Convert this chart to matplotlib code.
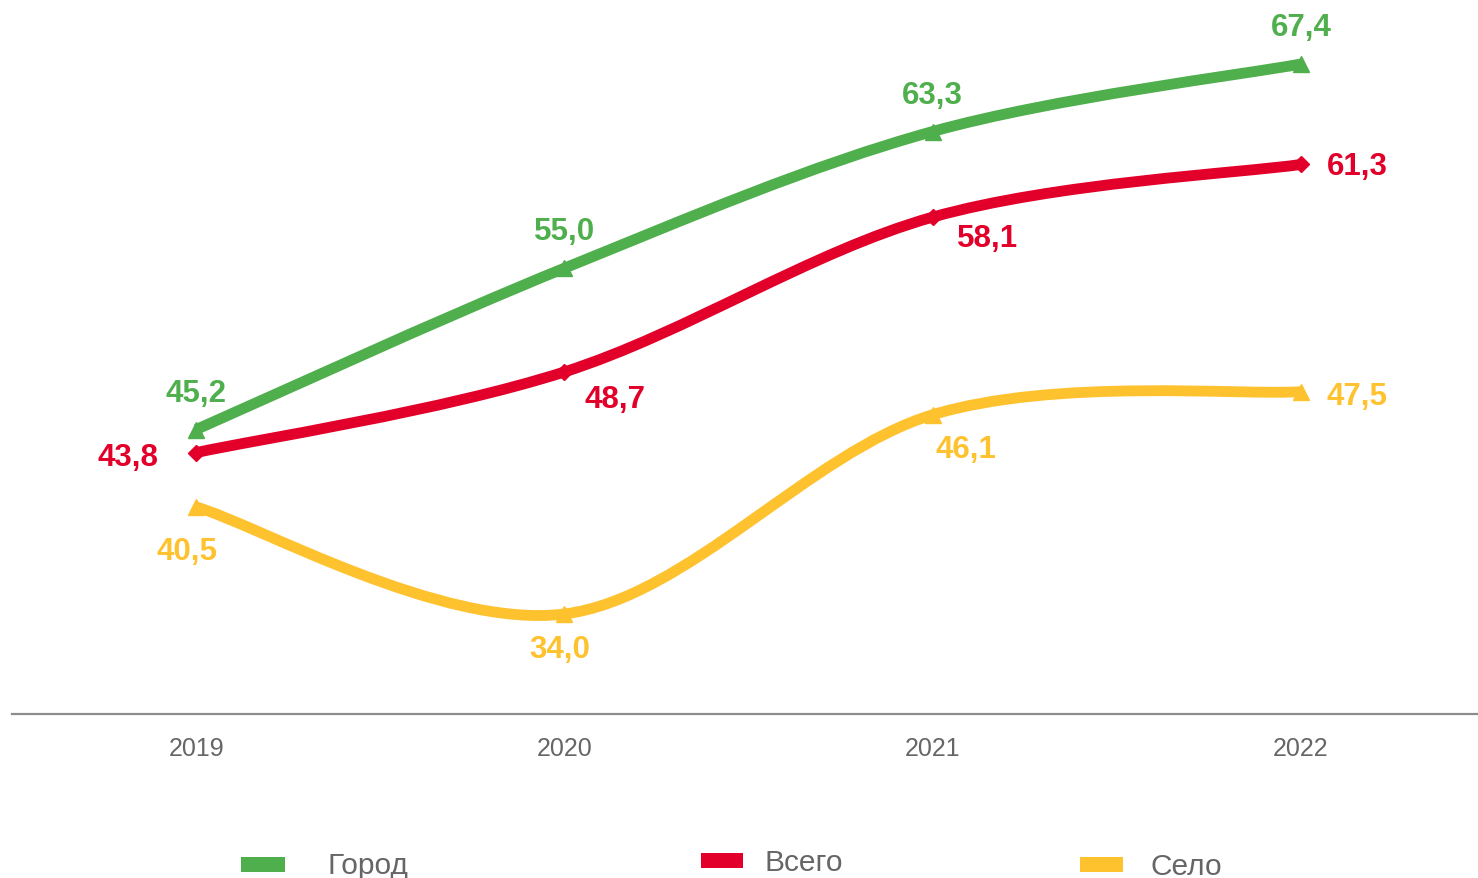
import matplotlib
matplotlib.use("Agg")
import matplotlib.pyplot as plt
from matplotlib.path import Path
from matplotlib.patches import PathPatch, Rectangle

plt.rcParams['font.family'] = ['Liberation Sans', 'DejaVu Sans']

years = ['2019', '2020', '2021', '2022']
gorod = [45.2, 55.0, 63.3, 67.4]
vsego = [43.8, 48.7, 58.1, 61.3]
selo = [40.5, 34.0, 46.1, 47.5]
series_names = ['Город', 'Всего', 'Село']

GREEN = '#4FAF4D'
RED = '#E2002A'
YELLOW = '#FFC22F'
GRAY = '#666666'

W, H = 1478, 879
fig = plt.figure(figsize=(W / 100, H / 100), dpi=100)
ax = fig.add_axes([12 / W, (H - 715) / H, 1473 / W, 715 / H])
ax.set_xlim(-0.5, 3.5)
ppu = 550 / 33.4
ymin = 34.0 - 100 / ppu
ax.set_ylim(ymin, ymin + 715 / ppu)


def smooth_path(xs, ys):
    pts = list(zip(xs, ys))
    n = len(pts)
    verts = [pts[0]]
    codes = [Path.MOVETO]
    for i in range(n - 1):
        p0 = pts[i - 1] if i > 0 else pts[i]
        p1 = pts[i]
        p2 = pts[i + 1]
        p3 = pts[i + 2] if i + 2 < n else pts[i + 1]
        c1 = (p1[0] + (p2[0] - p0[0]) / 6, p1[1] + (p2[1] - p0[1]) / 6)
        c2 = (p2[0] - (p3[0] - p1[0]) / 6, p2[1] - (p3[1] - p1[1]) / 6)
        verts += [c1, c2, p2]
        codes += [Path.CURVE4] * 3
    return Path(verts, codes)


xs = list(range(len(years)))
lw = 7.8
for vals, col, mk, ms in [(selo, YELLOW, '^', 12), (vsego, RED, 'D', 8), (gorod, GREEN, '^', 12)]:
    ax.add_patch(PathPatch(smooth_path(xs, vals), fill=False, edgecolor=col, lw=lw,
                           capstyle='butt', joinstyle='round', zorder=3))
    ax.plot(xs, vals, linestyle='none', marker=mk, markersize=ms, color=col, zorder=4)

label_offsets = {
    'Город': [(0, 37), (0, 37), (0, 37), (0, 37)],
    'Всего': [(-68, -4), (51, -27), (55, -21), (56, -2)],
    'Село': [(-9, -44), (-5, -35), (33, -34), (56, -4)],
}
for name, vals, col in [('Город', gorod, GREEN), ('Всего', vsego, RED), ('Село', selo, YELLOW)]:
    for i, v in enumerate(vals):
        dx, dy = label_offsets[name][i]
        ax.annotate(f"{v:.1f}".replace('.', ','), (i, v), xytext=(dx, dy),
                    textcoords='offset pixels', ha='center', va='center',
                    fontsize=22.5, fontweight='bold', color=col, zorder=5)

for s in ['top', 'right', 'left']:
    ax.spines[s].set_visible(False)
ax.spines['bottom'].set_color('#8C8C8C')
ax.spines['bottom'].set_linewidth(1.6)
ax.set_yticks([])
ax.set_xticks(xs)
ax.set_xticklabels(years, fontsize=18, color=GRAY)
ax.tick_params(axis='x', length=0, pad=16)

legend_items = [
    (GREEN, (241, 858, 44, 15), 'Город', (328, 866)),
    (RED, (701, 854, 42, 15), 'Всего', (765, 863)),
    (YELLOW, (1080, 858, 43, 15), 'Село', (1150, 867)),
]
for col, (rx, ry, rw, rh), txt, (tx, ty) in legend_items:
    fig.add_artist(Rectangle((rx / W, 1 - (ry + rh) / H), rw / W, rh / H,
                             transform=fig.transFigure, color=col, lw=0))
    fig.text(tx / W, 1 - ty / H, txt, fontsize=21.5, color=GRAY, ha='left', va='center')

fig.savefig('out.png', dpi=100)
